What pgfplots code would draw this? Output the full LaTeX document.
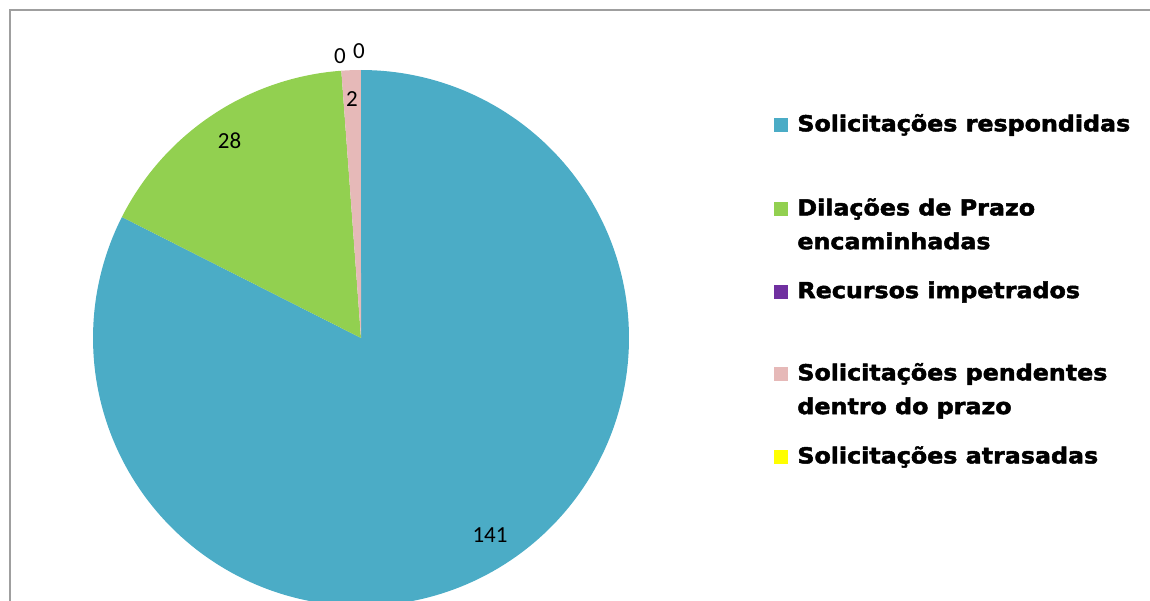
\documentclass[border=0pt]{standalone}
\usepackage{pgfplots}
\usepackage{pgfplotstable}
\pgfplotsset{compat=1.18}
\usepackage{fontspec}
\setmainfont{Carlito}
\newfontfamily\legfont{DejaVu Sans}[BoldFeatures={FakeBold=2.2, FakeStretch=1.08}]
\definecolor{cblue}{HTML}{4BACC6}
\definecolor{cgreen}{HTML}{92D050}
\definecolor{cpurple}{HTML}{7030A0}
\definecolor{cpink}{HTML}{E6B9B8}
\definecolor{cyellow}{HTML}{FFFF00}
\pgfplotstableread{
name value
resp 141
dil 28
rec 0
pend 2
atr 0
}\piedata
\begin{document}
\begin{tikzpicture}
\pgfplotstablegetelem{0}{value}\of\piedata \let\va\pgfplotsretval
\pgfplotstablegetelem{1}{value}\of\piedata \let\vb\pgfplotsretval
\pgfplotstablegetelem{2}{value}\of\piedata \let\vc\pgfplotsretval
\pgfplotstablegetelem{3}{value}\of\piedata \let\vd\pgfplotsretval
\pgfplotstablegetelem{4}{value}\of\piedata \let\ve\pgfplotsretval
\pgfmathsetmacro\tot{\va+\vb+\vc+\vd+\ve}
\pgfmathsetmacro\aA{90}
\pgfmathsetmacro\aB{\aA-\va/\tot*360}
\pgfmathsetmacro\aC{\aB-\vb/\tot*360}
\pgfmathsetmacro\aD{\aC-\vc/\tot*360}
\pgfmathsetmacro\aE{\aD-\vd/\tot*360}
\pgfmathsetmacro\mA{(\aA+\aB)/2}
\pgfmathsetmacro\mB{(\aB+\aC)/2}
\path[use as bounding box] (0,0) rectangle (575pt,300pt);
\begin{axis}[
  at={(0,0)}, anchor=south west,
  scale only axis, width=575pt, height=300pt,
  xmin=0, xmax=1150, ymin=0, ymax=600,
  hide axis, clip=true,
]
\addplot[fill=cblue, draw=none, domain=\aB:\aA, samples=200]
  ({361+268*cos(x)},{262+268*sin(x)}) -- (axis cs:361,262) -- cycle;
\addplot[fill=cgreen, draw=none, domain=\aC:\aB, samples=60]
  ({361+268*cos(x)},{262+268*sin(x)}) -- (axis cs:361,262) -- cycle;
\addplot[fill=cpink, draw=none, domain=\aE:\aD, samples=10]
  ({361+268*cos(x)},{262+268*sin(x)}) -- (axis cs:361,262) -- cycle;
% value labels
\tikzset{vl/.style={font=\fontsize{11.5}{13}\selectfont, inner sep=0pt}}
\node[vl] at (axis cs:490,64.5) {\va};
\node[vl] at (axis cs:{361+237*cos(\mB)},{262+237*sin(\mB)}) {\vb};
\node[vl] at (axis cs:352,501) {\vd};
\node[vl] at (axis cs:340,544) {\vc};
\node[vl] at (axis cs:359,549) {\ve};
% frame
\draw[gray!75, line width=1.1pt] (axis cs:10,-5) -- (axis cs:10,590) -- (axis cs:1150,590);
% legend
\tikzset{lsq/.style={minimum size=7.2pt, inner sep=0pt}, ltx/.style={anchor=west, inner sep=0pt, font=\legfont\bfseries\fontsize{11}{13}\selectfont}}
\node[lsq, fill=cblue] at (axis cs:781,475) {};
\node[ltx] at (axis cs:797,475) {Solicitações respondidas};
\node[lsq, fill=cgreen] at (axis cs:781,391) {};
\node[ltx] at (axis cs:797,391) {Dilações de Prazo};
\node[ltx] at (axis cs:797,359) {encaminhadas};
\node[lsq, fill=cpurple] at (axis cs:781,308) {};
\node[ltx] at (axis cs:797,308) {Recursos impetrados};
\node[lsq, fill=cpink] at (axis cs:781,226) {};
\node[ltx] at (axis cs:797,226) {Solicitações pendentes};
\node[ltx] at (axis cs:797,192) {dentro do prazo};
\node[lsq, fill=cyellow] at (axis cs:781,143) {};
\node[ltx] at (axis cs:797,143) {Solicitações atrasadas};
\end{axis}
\end{tikzpicture}
\end{document}
